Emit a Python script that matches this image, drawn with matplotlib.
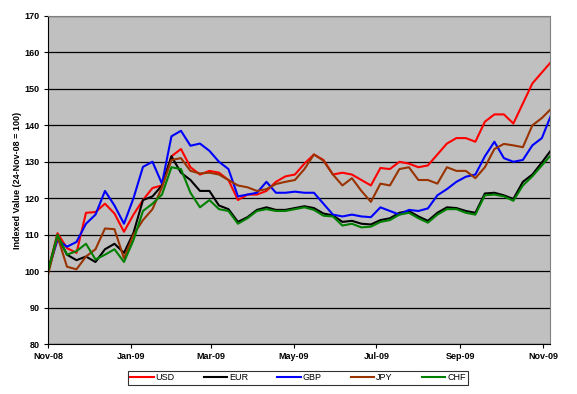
import pandas as pd
import matplotlib
matplotlib.use("Agg")
import matplotlib.pyplot as plt
import matplotlib.dates as mdates

plt.rcParams['font.family'] = ['Liberation Sans', 'DejaVu Sans']

# weekly readings, indexed to 24-Nov-08 = 100
dates = pd.date_range('2008-11-24', periods=54, freq='7D')

usd = [100.0, 110.4, 106.3, 105.0, 116.0, 116.2, 118.5, 115.8, 110.8, 115.5,
       119.5, 122.8, 123.5, 131.5, 133.5, 128.5, 126.5, 127.5, 127.0, 125.0,
       119.5, 121.0, 121.0, 122.0, 124.5, 126.0, 126.5, 129.5, 132.0, 130.5,
       126.5, 127.0, 126.5, 125.0, 123.5, 128.3, 128.0, 130.0, 129.5, 128.5,
       129.0, 132.0, 135.0, 136.5, 136.5, 135.5, 141.0, 143.0, 143.0, 140.5,
       146.0, 151.5, 154.5, 157.5]
eur = [100.0, 109.5, 104.5, 103.0, 104.0, 102.5, 106.0, 107.5, 105.0, 110.5,
       119.5, 120.5, 123.5, 131.5, 127.0, 125.0, 122.0, 122.0, 118.0, 117.0,
       113.5, 114.8, 116.8, 117.5, 116.8, 116.8, 117.3, 117.8, 117.3, 115.8,
       115.3, 113.5, 113.8, 113.0, 112.8, 114.0, 114.5, 116.0, 116.5, 115.0,
       113.8, 116.0, 117.5, 117.3, 116.5, 116.0, 121.3, 121.5, 120.8, 119.8,
       124.5, 126.5, 129.8, 133.3]
gbp = [100.0, 108.5, 106.7, 108.0, 113.0, 115.5, 122.0, 118.0, 113.0, 120.0,
       128.6, 130.0, 124.0, 137.0, 138.5, 134.4, 135.0, 133.0, 130.0, 128.0,
       120.5, 121.0, 121.5, 124.5, 121.5, 121.5, 121.8, 121.5, 121.5, 118.5,
       115.5, 115.0, 115.5, 115.0, 114.8, 117.5, 116.5, 115.5, 116.8, 116.5,
       117.2, 120.8, 122.5, 124.5, 125.9, 126.5, 131.5, 135.5, 131.0, 130.0,
       130.5, 134.5, 136.5, 143.0]
jpy = [99.0, 109.5, 101.2, 100.5, 104.0, 106.0, 111.7, 111.5, 103.5, 110.0,
       114.0, 117.0, 123.0, 130.5, 131.0, 127.5, 126.8, 127.0, 126.5, 125.0,
       123.5, 123.0, 122.0, 122.5, 123.9, 124.5, 125.0, 128.0, 132.0, 130.3,
       126.5, 123.5, 125.5, 122.0, 119.0, 124.0, 123.5, 128.0, 128.5, 125.0,
       125.0, 124.0, 128.5, 127.5, 127.5, 125.5, 128.5, 133.5, 134.9, 134.5,
       134.0, 140.0, 142.0, 144.6]
chf = [100.0, 110.0, 104.5, 105.5, 107.5, 103.2, 104.5, 106.0, 102.5, 108.5,
       116.5, 118.5, 121.0, 128.5, 128.0, 121.5, 117.5, 119.5, 117.0, 116.5,
       113.0, 114.5, 116.5, 117.0, 116.5, 116.5, 117.0, 117.5, 116.8, 115.2,
       115.0, 112.5, 113.0, 112.0, 112.2, 113.5, 114.0, 115.5, 116.0, 114.5,
       113.3, 115.5, 117.0, 117.0, 116.0, 115.5, 120.8, 121.0, 120.5, 119.3,
       123.5, 126.0, 129.0, 132.0]

names = ['USD', 'EUR', 'GBP', 'JPY', 'CHF']
colors = ['#FF0000', '#000000', '#0000FF', '#993300', '#008000']
series = [usd, eur, gbp, jpy, chf]

fig = plt.figure(figsize=(5.77, 3.94), dpi=100)
ax = fig.add_axes([48/577, 1-344/394, 502/577, 328/394])
ax.set_facecolor('#C0C0C0')

for name, col, vals in zip(names, colors, series):
    ax.plot(dates, vals, color=col, lw=1.5, label=name)

ax.set_ylim(80, 170)
ax.set_yticks(range(80, 171, 10))
ax.yaxis.grid(True, color='black', lw=0.9)
ax.set_axisbelow(True)

ax.set_xlim(pd.Timestamp('2008-11-24'), pd.Timestamp('2009-11-29'))
xt = pd.date_range('2008-11-24', periods=7, freq=pd.DateOffset(months=2))
ax.set_xticks(xt)
ax.xaxis.set_major_formatter(mdates.DateFormatter('%b-%y'))

for s in ['top', 'right']:
    ax.spines[s].set_color('#808080')
for s in ['left', 'bottom']:
    ax.spines[s].set_color('black')
ax.tick_params(direction='out', length=3, width=0.8, labelsize=6.5, pad=3)
for lab in ax.get_xticklabels() + ax.get_yticklabels():
    lab.set_fontweight('bold')

ax.set_ylabel('Indexed Value (24-Nov-08 = 100)', fontsize=6.5, fontweight='bold', labelpad=2)

leg = fig.legend(loc='center', ncol=5, bbox_to_anchor=(123/577, 1-386/394, 350/577, 16/394),
                 mode='expand', fontsize=6.5, frameon=True, fancybox=False,
                 handlelength=2.6, handletextpad=0.2, borderpad=0.3)
leg.get_frame().set_edgecolor('black')
leg.get_frame().set_linewidth(0.8)

fig.savefig('out.png', dpi=100, facecolor='white')
